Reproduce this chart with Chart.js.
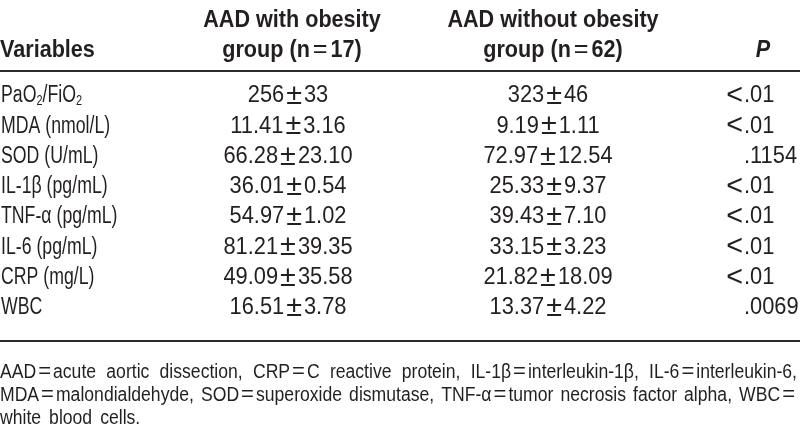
<!DOCTYPE html>
<html>
<head>
<meta charset="utf-8">
<script src="https://cdn.jsdelivr.net/npm/chart.js@4.4.1/dist/chart.umd.min.js"></script>
<style>
  html, body { margin: 0; padding: 0; background: #fff; }
  #wrap { width: 800px; height: 443px; }
</style>
</head>
<body>
<div id="wrap"><canvas id="tabela"></canvas></div>
<script>
// dados da tabela
const variaveis = ["PaO₂/FiO₂", "MDA (nmol/L)", "SOD (U/mL)", "IL-1β (pg/mL)", "TNF-α (pg/mL)", "IL-6 (pg/mL)", "CRP (mg/L)", "WBC"];
const casas = [0, 2, 2, 2, 2, 2, 2, 2];
const obesoMedia = [256, 11.41, 66.28, 36.01, 54.97, 81.21, 49.09, 16.51];
const obesoDP = [33, 3.16, 23.10, 0.54, 1.02, 39.35, 35.58, 3.78];
const naoObesoMedia = [323, 9.19, 72.97, 25.33, 39.43, 33.15, 21.82, 13.37];
const naoObesoDP = [46, 1.11, 12.54, 9.37, 7.10, 3.23, 18.09, 4.22];
const valoresP = ["<.01", "<.01", ".1154", "<.01", "<.01", "<.01", "<.01", ".0069"];

const cabecalhos = [
    ["", "Variables"],
    ["AAD with obesity", "group (n=17)"],
    ["AAD without obesity", "group (n=62)"],
    ["", "P"]
];

const rodape = [
    "AAD=acute aortic dissection, CRP=C reactive protein, IL-1β=interleukin-1β, IL-6=interleukin-6,",
    "MDA=malondialdehyde, SOD=superoxide dismutase, TNF-α=tumor necrosis factor alpha, WBC=",
    "white blood cells."
];

// posicoes das colunas (na escala x, 0..800)
const colunas = { variavel: 1, obeso: 288, naoObeso: 548, pDecimal: 744, pCab: 763 };

const COR = "#231f20";
const FAMILIA = '"Liberation Sans", Arial, sans-serif';
const SIMBOLOS = "±=<";

function fonte(o, tam) {
    return (o.style || "") + " " + (o.weight || "normal") + " " + tam + "px " + FAMILIA;
}

function segmentos(texto) {
    const segs = [];
    for (const ch of texto) {
        let tipo = "n", t = ch;
        if (ch === "₂") { tipo = "sub"; t = "2"; }
        else if (SIMBOLOS.includes(ch)) tipo = "sym";
        const ult = segs[segs.length - 1];
        if (ult && ult.tipo === "n" && tipo === "n") ult.t += t;
        else segs.push({ tipo: tipo, t: t });
    }
    return segs;
}

function medirSeg(ctx, s, o) {
    if (s.tipo === "sub") {
        ctx.font = fonte(o, o.size * 0.62);
        return ctx.measureText(s.t).width * o.sx;
    }
    if (s.tipo === "sym") {
        ctx.font = fonte({}, o.size * o.symEsc);
        return ctx.measureText(s.t).width + 2 * o.symPad;
    }
    ctx.font = fonte(o, o.size);
    return ctx.measureText(s.t).width * o.sx;
}

function largura(ctx, texto, o) {
    return segmentos(texto).reduce((soma, s) => soma + medirSeg(ctx, s, o), 0);
}

function escrever(ctx, texto, x, y, o) {
    const segs = segmentos(texto);
    const w = segs.reduce((soma, s) => soma + medirSeg(ctx, s, o), 0);
    let cx = x;
    if (o.align === "center") cx = x - w / 2;
    else if (o.align === "right") cx = x - w;
    ctx.fillStyle = COR;
    ctx.textBaseline = "middle";
    ctx.textAlign = "left";
    segs.forEach(s => {
        const sw = medirSeg(ctx, s, o);
        ctx.save();
        if (s.tipo === "sub") {
            ctx.font = fonte(o, o.size * 0.62);
            ctx.translate(cx, y + o.size * 0.22);
            ctx.scale(o.sx, 1);
            ctx.fillText(s.t, 0, 0);
        } else if (s.tipo === "sym") {
            ctx.font = fonte({}, o.size * o.symEsc);
            ctx.fillText(s.t, cx + o.symPad, y);
        } else {
            ctx.font = fonte(o, o.size);
            ctx.translate(cx, y);
            ctx.scale(o.sx, 1);
            ctx.fillText(s.t, 0, 0);
        }
        ctx.restore();
        cx += sw;
    });
    return w;
}

function escreverJustificado(ctx, texto, x, y, alvo, o) {
    const palavras = texto.split(" ");
    let larguras = palavras.map(p => largura(ctx, p, o));
    let total = larguras.reduce((a, b) => a + b, 0);
    let opt = o;
    const minGap = 5;
    if (total + minGap * (palavras.length - 1) > alvo) {
        const f = (alvo - minGap * (palavras.length - 1)) / total;
        opt = Object.assign({}, o, { sx: o.sx * f });
        larguras = palavras.map(p => largura(ctx, p, opt));
        total = larguras.reduce((a, b) => a + b, 0);
    }
    const gap = (alvo - total) / (palavras.length - 1);
    let cx = x;
    palavras.forEach((p, i) => {
        escrever(ctx, p, cx, y, Object.assign({}, opt, { align: "left" }));
        cx += larguras[i] + gap;
    });
}

function escreverNormal(ctx, texto, x, y, o) {
    const palavras = texto.split(" ");
    let cx = x;
    palavras.forEach(p => {
        cx += escrever(ctx, p, cx, y, Object.assign({}, o, { align: "left" })) + 8;
    });
}

function linha(ctx, y, esp) {
    ctx.save();
    ctx.fillStyle = "#2b2b2b";
    ctx.fillRect(0, y - esp / 2, 800, esp);
    ctx.restore();
}

const corpo = { size: 23, sx: 0.77, symEsc: 1.2, symPad: 2 };
const numeros = { size: 23, sx: 0.95, symEsc: 1.25, symPad: 2 };
const negrito = { size: 24, sx: 0.9, weight: "bold", symEsc: 1.05, symPad: 3 };
const nota = { size: 20, sx: 0.88, symEsc: 1.1, symPad: 2 };

const pluginTabela = {
    id: "pluginTabela",
    afterDraw(chart) {
        const ctx = chart.ctx;
        const sx = chart.scales.x;
        const sy = chart.scales.y;

        // cabecalho
        const yL1 = 20, yL2 = 50;
        escrever(ctx, cabecalhos[0][1], sx.getPixelForValue(colunas.variavel) - 1, yL2, Object.assign({ align: "left" }, negrito));
        escrever(ctx, cabecalhos[1][0], sx.getPixelForValue(colunas.obeso + 4), yL1, Object.assign({ align: "center" }, negrito));
        escrever(ctx, cabecalhos[1][1], sx.getPixelForValue(colunas.obeso + 4), yL2, Object.assign({ align: "center" }, negrito));
        escrever(ctx, cabecalhos[2][0], sx.getPixelForValue(colunas.naoObeso + 5), yL1, Object.assign({ align: "center" }, negrito));
        escrever(ctx, cabecalhos[2][1], sx.getPixelForValue(colunas.naoObeso + 5), yL2, Object.assign({ align: "center" }, negrito));
        escrever(ctx, cabecalhos[3][1], sx.getPixelForValue(colunas.pCab), yL2, Object.assign({ align: "center", style: "italic" }, negrito));

        linha(ctx, 71, 2);

        // linhas de dados
        variaveis.forEach((nome, i) => {
            const y = sy.getPixelForValue(i);
            escrever(ctx, nome, sx.getPixelForValue(colunas.variavel), y, Object.assign({ align: "left" }, corpo));
            const v1 = obesoMedia[i].toFixed(casas[i]) + "±" + obesoDP[i].toFixed(casas[i]);
            const v2 = naoObesoMedia[i].toFixed(casas[i]) + "±" + naoObesoDP[i].toFixed(casas[i]);
            escrever(ctx, v1, sx.getPixelForValue(colunas.obeso), y, Object.assign({ align: "center" }, numeros));
            escrever(ctx, v2, sx.getPixelForValue(colunas.naoObeso), y, Object.assign({ align: "center" }, numeros));
            const p = valoresP[i];
            const k = p.indexOf(".");
            const xd = sx.getPixelForValue(colunas.pDecimal);
            if (k > 0) escrever(ctx, p.slice(0, k), xd, y, Object.assign({ align: "right" }, numeros, { symPad: 1 }));
            escrever(ctx, p.slice(k), xd, y, Object.assign({ align: "left" }, numeros));
        });

        linha(ctx, 341, 2);

        // nota de rodape
        const yNotas = [372, 395, 418];
        rodape.forEach((t, i) => {
            if (i < rodape.length - 1) escreverJustificado(ctx, t, 0, yNotas[i], 797, nota);
            else escreverNormal(ctx, t, 0, yNotas[i], nota);
        });
    }
};

new Chart(document.getElementById("tabela"), {
    type: "scatter",
    data: {
        labels: variaveis,
        datasets: []
    },
    options: {
        responsive: true,
        maintainAspectRatio: false,
        animation: false,
        devicePixelRatio: 1,
        layout: { padding: { top: 81, bottom: 120, left: 0, right: 0 } },
        plugins: {
            legend: { display: false },
            tooltip: { enabled: false }
        },
        scales: {
            x: { type: "linear", min: 0, max: 800, display: false },
            y: { type: "category", labels: variaveis, offset: true, display: false }
        }
    },
    plugins: [pluginTabela]
});
</script>
</body>
</html>
